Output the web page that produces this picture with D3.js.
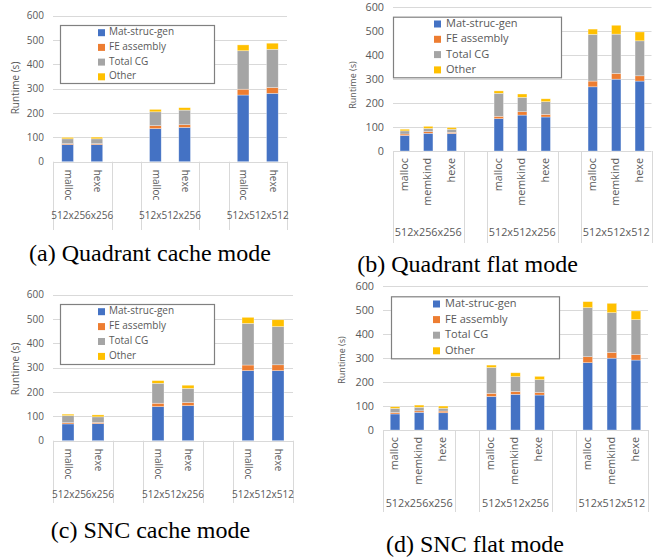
<!DOCTYPE html>
<html>
<head>
<meta charset="utf-8">
<script src="https://cdn.jsdelivr.net/npm/d3@7"></script>
<style>
  body { margin: 0; background: #fff; }
  svg { display: block; }
  text { fill: #595959; font-family: "Open Sans", sans-serif; }
  .caption { fill: #000; font-family: "Liberation Serif", "Times New Roman", serif; }
</style>
</head>
<body>
<svg id="fig" width="667" height="558"></svg>
<script>
// problem sizes and allocators
var sizes = ["512x256x256", "512x512x256", "512x512x512"];
var cacheAllocs = ["malloc", "hexe"];
var flatAllocs = ["malloc", "memkind", "hexe"];
var series = ["Mat-struc-gen", "FE assembly", "Total CG", "Other"];
var colors = ["#4472C4", "#ED7D31", "#A5A5A5", "#FFC000"];
var yTicks = [0, 100, 200, 300, 400, 500, 600];

// runtimes (s), one row per series, one column per bar
var quadCache = [
    [70, 70, 136, 141, 274, 281],
    [4, 4, 12, 11, 24, 24],
    [20, 20, 57, 60, 158, 157],
    [6, 7, 10, 10, 24, 25]
];
var quadFlat = [
    [65, 74, 73, 135, 150, 142, 268, 300, 292],
    [6, 7, 5, 10, 14, 11, 24, 24, 22],
    [13, 13, 13, 96, 60, 53, 195, 164, 146],
    [7, 9, 7, 10, 14, 12, 22, 37, 37]
];
var sncCache = [
    [69, 70, 140, 144, 288, 288],
    [5, 5, 14, 13, 23, 24],
    [29, 23, 82, 58, 171, 157],
    [6, 8, 11, 13, 25, 28]
];
var sncFlat = [
    [67, 74, 72, 140, 149, 146, 281, 300, 292],
    [6, 6, 7, 13, 12, 11, 25, 24, 23],
    [17, 15, 12, 108, 62, 53, 205, 166, 146],
    [7, 9, 9, 10, 16, 14, 25, 39, 36]
];

var svg = d3.select("#fig");

var panels = [
    { data: quadCache, allocs: cacheAllocs, caption: "(a) Quadrant cache mode",
      x0: 53, x1: 287, yTop: 15.7, yZero: 161.7, font: 10, catDir: 90, catOff: 8,
      groupY: 216, lineBottom: 230, titleX: 16, titleY: 88, titleFont: 10,
      legend: { x: 60, y: 25, w: 154, h: 58, sx: 98, tx: 109, ry: 32.7, step: 14.7, font: 10 },
      capX: 150, capY: 261 },
    { data: quadFlat, allocs: flatAllocs, caption: "(b) Quadrant flat mode",
      x0: 393, x1: 651.5, yTop: 7.3, yZero: 151, font: 10.8, catDir: -90, catOff: 7,
      groupY: 233, lineBottom: 243, titleX: 354, titleY: 85, titleFont: 9,
      legend: { x: 393, y: 16.7, w: 168, h: 60.6, sx: 434, tx: 446, ry: 24, step: 15.3, font: 11 },
      capX: 467.5, capY: 272 },
    { data: sncCache, allocs: cacheAllocs, caption: "(c) SNC cache mode",
      x0: 53, x1: 293, yTop: 294.7, yZero: 440.7, font: 10, catDir: 90, catOff: 8,
      groupY: 495, lineBottom: 503, titleX: 16, titleY: 369, titleFont: 10,
      legend: { x: 60, y: 304, w: 154, h: 60, sx: 98, tx: 109, ry: 311.7, step: 14.9, font: 10 },
      capX: 150.5, capY: 538 },
    { data: sncFlat, allocs: flatAllocs, caption: "(d) SNC flat mode",
      x0: 383, x1: 648, yTop: 286.3, yZero: 430, font: 10.8, catDir: -90, catOff: 7,
      groupY: 504, lineBottom: 512, titleX: 343, titleY: 360, titleFont: 9,
      legend: { x: 391, y: 296.3, w: 168, h: 62, sx: 433, tx: 445, ry: 304, step: 15.6, font: 11 },
      capX: 475, capY: 552 }
];

panels.forEach(drawPanel);

function drawPanel(p) {
    var g = svg.append("g");

    // category slots, with an empty slot between groups
    var keys = [];
    sizes.forEach(function (s, i) {
        p.allocs.forEach(function (a) { keys.push(s + "|" + a); });
        if (i < sizes.length - 1) keys.push("gap" + i);
    });
    var barKeys = keys.filter(function (k) { return k.indexOf("gap") !== 0; });

    var x = d3.scaleBand().domain(keys).range([p.x0, p.x1]);
    var y = d3.scaleLinear().domain([0, 600]).range([p.yZero, p.yTop]);
    var bw = x.bandwidth();

    //  Grid ---
    g.selectAll(".grid").data(yTicks).join("line")
        .attr("x1", p.x0).attr("x2", p.x1)
        .attr("y1", function (d) { return Math.round(y(d)) + 0.5; })
        .attr("y2", function (d) { return Math.round(y(d)) + 0.5; })
        .attr("stroke", "#d9d9d9").attr("stroke-width", 1);

    var yAxis = g.append("g")
        .attr("transform", "translate(" + (p.x0 - 9) + ",0)")
        .call(d3.axisLeft(y).tickValues(yTicks).tickSize(0).tickPadding(0));
    yAxis.select(".domain").remove();
    yAxis.selectAll("text")
        .style("font-family", "Open Sans, sans-serif")
        .style("font-size", p.font + "px")
        .attr("fill", "#595959");

    g.append("text")
        .attr("transform", "translate(" + p.titleX + "," + p.titleY + ") rotate(-90)")
        .attr("text-anchor", "middle")
        .attr("dominant-baseline", "middle")
        .style("font-size", p.titleFont + "px")
        .text("Runtime (s)");

    //  Bars ---
    var rows = barKeys.map(function (k, j) {
        var o = { key: k };
        series.forEach(function (s, si) { o[s] = p.data[si][j]; });
        return o;
    });
    var stacked = d3.stack().keys(series)(rows);
    var barW = bw * 0.4;

    g.selectAll(".layer").data(stacked).join("g")
        .attr("fill", function (d, i) { return colors[i]; })
        .selectAll("rect").data(function (d) { return d; }).join("rect")
        .attr("x", function (d) { return x(d.data.key) + (bw - barW) / 2; })
        .attr("width", barW)
        .attr("y", function (d) { return y(d[1]); })
        .attr("height", function (d) { return y(d[0]) - y(d[1]); })
        .attr("stroke", "#ffffff").attr("stroke-opacity", 0.55).attr("stroke-width", 0.6);

    //  Category axis ---
    var bounds = [];
    sizes.forEach(function (s, i) {
        bounds.push(x(s + "|" + p.allocs[0]));
        if (i < sizes.length - 1) bounds.push(x("gap" + i));
    });
    bounds.push(p.x1);
    g.selectAll(".sep").data(bounds).join("line")
        .attr("x1", function (d) { return Math.round(d) + 0.5; })
        .attr("x2", function (d) { return Math.round(d) + 0.5; })
        .attr("y1", y(0)).attr("y2", p.lineBottom)
        .attr("stroke", "#d9d9d9");

    g.selectAll(".cat").data(barKeys).join("text")
        .attr("transform", function (d) {
            return "translate(" + (x(d) + bw / 2) + "," + (y(0) + p.catOff) + ") rotate(" + p.catDir + ")";
        })
        .attr("text-anchor", p.catDir > 0 ? "start" : "end")
        .attr("dominant-baseline", "middle")
        .style("font-size", p.font + "px")
        .text(function (d) { return d.split("|")[1]; });

    g.selectAll(".grp").data(sizes).join("text")
        .attr("x", function (s) {
            var first = x(s + "|" + p.allocs[0]);
            var last = x(s + "|" + p.allocs[p.allocs.length - 1]) + bw;
            return (first + last) / 2;
        })
        .attr("y", p.groupY)
        .attr("text-anchor", "middle")
        .attr("dominant-baseline", "middle")
        .style("font-size", p.font + "px")
        .text(function (d) { return d; });

    //  Legend ---
    var L = p.legend;
    var leg = g.append("g");
    leg.append("rect")
        .attr("x", L.x + 0.5).attr("y", L.y + 0.5)
        .attr("width", L.w).attr("height", L.h)
        .attr("fill", "#fff").attr("stroke", "#808080").attr("stroke-width", 1.2);
    var item = leg.selectAll(".item").data(series).join("g")
        .attr("transform", function (d, i) { return "translate(0," + (L.ry + i * L.step) + ")"; });
    item.append("rect")
        .attr("x", L.sx).attr("y", -3.5).attr("width", 7).attr("height", 7)
        .attr("fill", function (d, i) { return colors[i]; });
    item.append("text")
        .attr("x", L.tx).attr("y", 0)
        .attr("dominant-baseline", "middle")
        .style("font-size", L.font + "px")
        .text(function (d) { return d; });

    //  Caption ---
    g.append("text")
        .attr("class", "caption")
        .attr("x", p.capX).attr("y", p.capY)
        .attr("text-anchor", "middle")
        .style("font-size", "24px")
        .text(p.caption);
}
</script>
</body>
</html>
